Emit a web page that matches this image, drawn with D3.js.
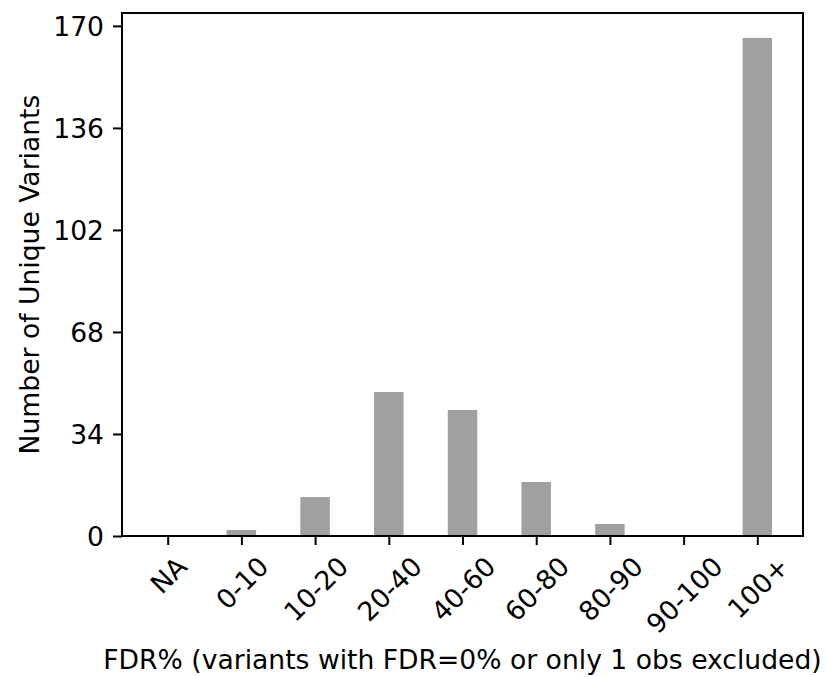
<!DOCTYPE html>
<html>
<head>
<meta charset="utf-8">
<script src="https://cdn.jsdelivr.net/npm/d3@7"></script>
<style>
  html, body { margin: 0; padding: 0; background: #fff; }
  svg { display: block; }
  text { font-family: "DejaVu Sans", sans-serif; fill: #000; }
</style>
</head>
<body>
<svg id="chart" width="827" height="677"></svg>
<script>
const categories = ["NA", "0-10", "10-20", "20-40", "40-60", "60-80", "80-90", "90-100", "100+"];
const counts = [0, 2, 13, 48, 42, 18, 4, 0, 166];
const yTicks = [0, 34, 68, 102, 136, 170];
const xLabel = "FDR% (variants with FDR=0% or only 1 obs excluded)";
const yLabel = "Number of Unique Variants";

const W = 827, H = 677;
const margin = { left: 122, right: 24, top: 13, bottom: 141 };
const pw = W - margin.left - margin.right;
const ph = H - margin.top - margin.bottom;
const fs = 26.6;
const tickLen = 9, tickPad = 9;
const barWidth = 0.4;

const svg = d3.select("#chart");
const g = svg.append("g").attr("transform", `translate(${margin.left},${margin.top})`);

const n = categories.length;
const lo = -barWidth / 2, hi = (n - 1) + barWidth / 2;
const padX = (hi - lo) * 0.05;
const x = d3.scaleLinear().domain([lo - padX, hi + padX]).range([0, pw]);
const yMax = d3.max(counts) * 1.05;
const y = d3.scaleLinear().domain([0, yMax]).range([ph, 0]);

// bars
g.selectAll("rect.bar").data(counts).join("rect")
  .attr("class", "bar")
  .attr("x", (d, i) => x(i - barWidth / 2))
  .attr("width", (d, i) => x(i + barWidth / 2) - x(i - barWidth / 2))
  .attr("y", d => y(d))
  .attr("height", d => y(0) - y(d))
  .attr("fill", "#a0a0a0");

// y axis
const yAxis = d3.axisLeft(y).tickValues(yTicks).tickSize(tickLen).tickPadding(tickPad);
const yg = g.append("g").call(yAxis);
yg.select(".domain").remove();
yg.selectAll(".tick line").attr("stroke", "#000").attr("stroke-width", 2);
yg.selectAll(".tick text").attr("font-size", fs).attr("font-family", "DejaVu Sans").attr("dy", "0.35em");

// x axis
const xAxis = d3.axisBottom(x).tickValues(d3.range(n)).tickFormat(i => categories[i]).tickSize(tickLen).tickPadding(tickPad);
const xg = g.append("g").attr("transform", `translate(0,${ph})`).call(xAxis);
xg.select(".domain").remove();
xg.selectAll(".tick line").attr("stroke", "#000").attr("stroke-width", 2);
xg.selectAll(".tick text").each(function () {
  const t = d3.select(this);
  t.attr("font-size", fs).attr("font-family", "DejaVu Sans")
   .attr("text-anchor", "middle").attr("dy", null).attr("y", 0);
  const w = this.getComputedTextLength();
  const h = fs * 0.99;
  const top = tickLen + tickPad;
  const cy = top + (w + h) / (2 * Math.SQRT2);
  t.attr("transform", `translate(2,${cy}) rotate(-45)`).attr("y", fs * 0.265);
});

// frame
g.append("rect").attr("x", 0).attr("y", 0).attr("width", pw).attr("height", ph)
  .attr("fill", "none").attr("stroke", "#000").attr("stroke-width", 2);

// labels
svg.append("text").attr("x", margin.left + pw / 2).attr("y", 669)
  .attr("text-anchor", "middle").attr("font-size", fs).text(xLabel);
svg.append("text").attr("transform", `translate(39,${margin.top + ph / 2}) rotate(-90)`)
  .attr("text-anchor", "middle").attr("font-size", fs).text(yLabel);
</script>
</body>
</html>
